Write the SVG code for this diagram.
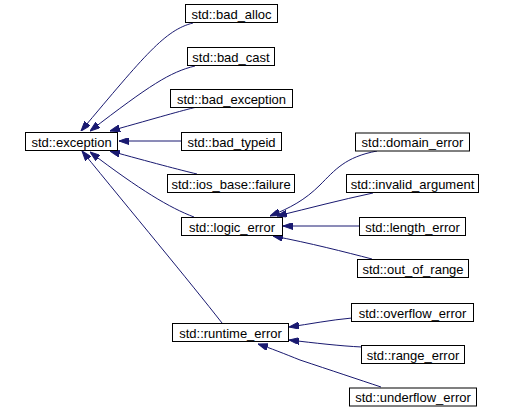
<svg xmlns="http://www.w3.org/2000/svg" width="505" height="409" viewBox="0 0 505 409">
<style>
.n rect{fill:#ffffff;stroke:#000000;stroke-width:1}
.n text{font-family:"Liberation Sans",Arial,sans-serif;font-size:13px;fill:#000000;text-anchor:middle}
.e path{fill:none;stroke:#191970;stroke-width:1;marker-end:url(#ah)}
</style>
<defs>
<marker id="ah" viewBox="0 0 10 7" refX="10" refY="3.5" markerWidth="10" markerHeight="7" markerUnits="userSpaceOnUse" orient="auto">
<path d="M0,0 L10,3.5 L0,7 z" fill="#191970" stroke="#191970" stroke-width="1"/>
</marker>
</defs>
<rect width="505" height="409" fill="#ffffff"/>
<g id="connectors" class="e">
<path d="M193,23 C165,30 145,55 81,131"/>
<path d="M195,66 C170,72 150,85 90,131"/>
<path d="M197,107 C180,111 160,117 110,131"/>
<path d="M181,141 L119,141"/>
<path d="M197,174 C180,170 150,162 110,151"/>
<path d="M194,217 C170,208 140,190 90,152"/>
<path d="M222,323 C190,282 130,210 82,151"/>
<path d="M377,151 C345,157 335,170 320,185 C305,200 290,208 270,216"/>
<path d="M373,193 C340,200 310,208 277,216"/>
<path d="M359,226 L283,226"/>
<path d="M372,259 C345,252 310,243 273,236"/>
<path d="M352,318 C330,320 310,324 289,327"/>
<path d="M362,347 C340,346 315,343 289,340"/>
<path d="M381,387 C360,380 330,370 300,360 C285,354 270,348 258,344"/>
</g>
<g id="exception" class="n"><rect x="25.5" y="132.5" width="92" height="18"/><text x="71.5" y="146.5">std::exception</text></g>
<g id="bad_alloc" class="n"><rect x="185.5" y="4.5" width="92" height="18"/><text x="231.5" y="18.5">std::bad_alloc</text></g>
<g id="bad_cast" class="n"><rect x="187.5" y="47.5" width="87" height="18"/><text x="231" y="61.5">std::bad_cast</text></g>
<g id="bad_exception" class="n"><rect x="170.5" y="89.5" width="122" height="18"/><text x="231.5" y="103.5">std::bad_exception</text></g>
<g id="bad_typeid" class="n"><rect x="181.5" y="132.5" width="100" height="18"/><text x="231.5" y="146.5">std::bad_typeid</text></g>
<g id="ios_base_failure" class="n"><rect x="167.5" y="174.5" width="127" height="18"/><text x="231" y="188.5">std::ios_base::failure</text></g>
<g id="logic_error" class="n"><rect x="181.5" y="217.5" width="101" height="18"/><text x="232" y="231.5">std::logic_error</text></g>
<g id="runtime_error" class="n"><rect x="172.5" y="323.5" width="116" height="18"/><text x="230.5" y="337.5">std::runtime_error</text></g>
<g id="domain_error" class="n"><rect x="355.5" y="133" width="114" height="18"/><text x="412.5" y="147">std::domain_error</text></g>
<g id="invalid_argument" class="n"><rect x="346.5" y="174.5" width="132" height="18"/><text x="412.5" y="188.5">std::invalid_argument</text></g>
<g id="length_error" class="n"><rect x="359.5" y="217.5" width="106" height="18"/><text x="412.5" y="231.5">std::length_error</text></g>
<g id="out_of_range" class="n"><rect x="357.5" y="259.5" width="111" height="18"/><text x="413" y="273.5">std::out_of_range</text></g>
<g id="overflow_error" class="n"><rect x="351.5" y="303.5" width="122" height="18"/><text x="412.5" y="317.5">std::overflow_error</text></g>
<g id="range_error" class="n"><rect x="361.5" y="345.5" width="103" height="18"/><text x="413" y="359.5">std::range_error</text></g>
<g id="underflow_error" class="n"><rect x="349.5" y="388" width="127" height="18"/><text x="413" y="402">std::underflow_error</text></g>
</svg>
